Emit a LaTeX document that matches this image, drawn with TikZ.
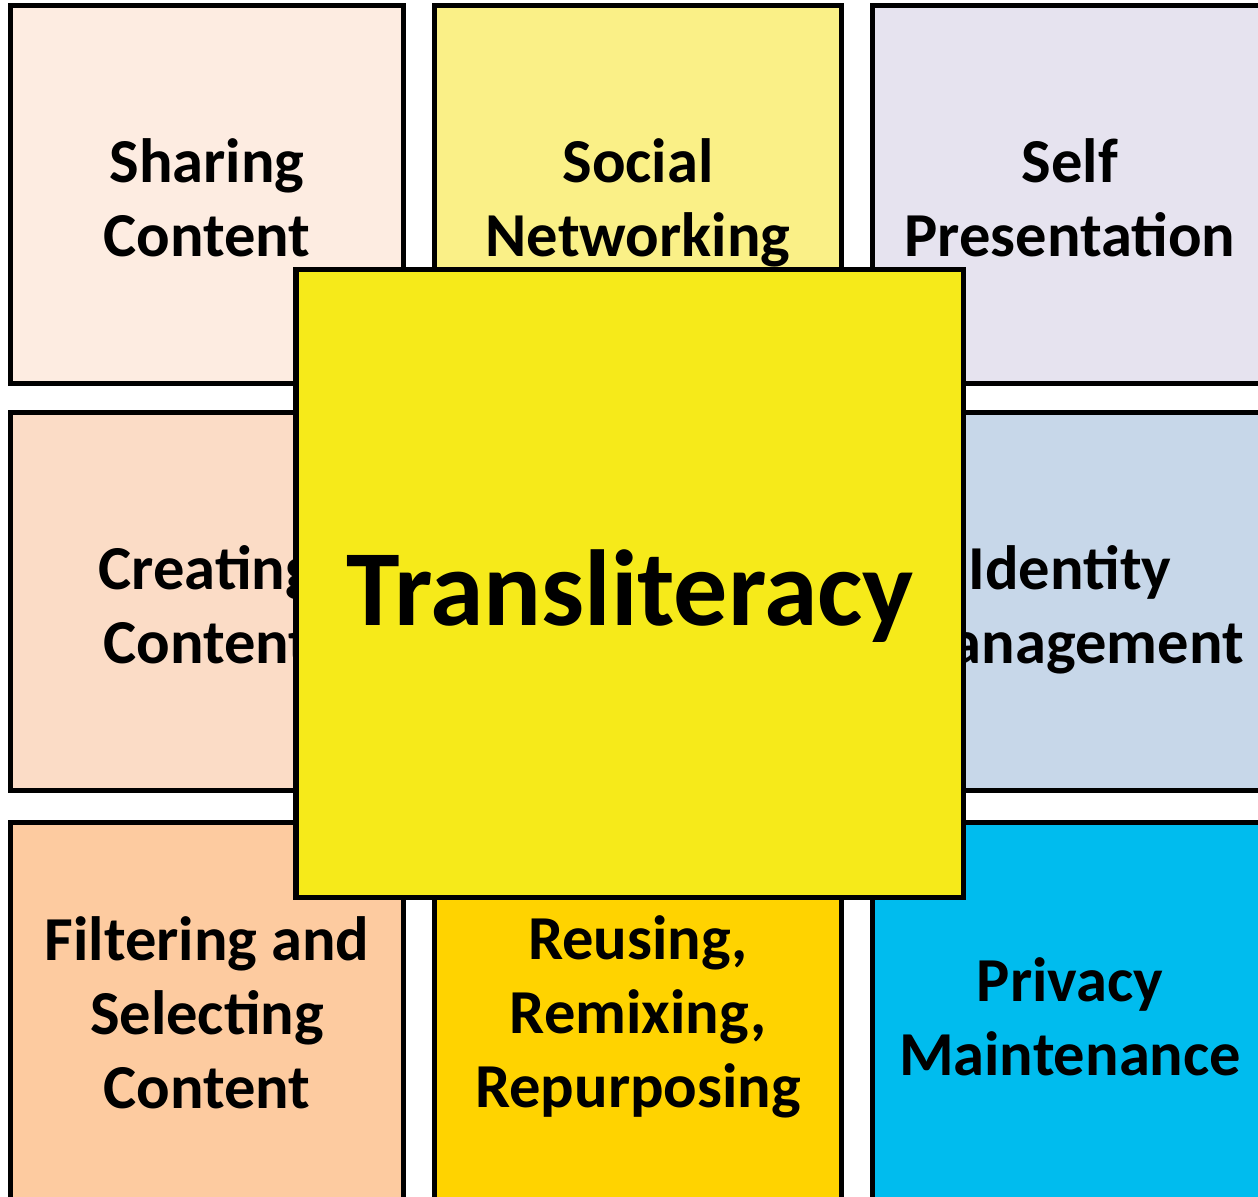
\documentclass[tikz,border=0pt]{standalone}
\usepackage{fontspec}
\setmainfont{Carlito}
\definecolor{cShare}{HTML}{FDECE1}
\definecolor{cSocial}{HTML}{FAF087}
\definecolor{cSelf}{HTML}{E6E3EF}
\definecolor{cCreate}{HTML}{FBDCC6}
\definecolor{cIdent}{HTML}{C7D7E9}
\definecolor{cFilter}{HTML}{FDCBA0}
\definecolor{cReuse}{HTML}{FFD300}
\definecolor{cPrivacy}{HTML}{00BCEE}
\definecolor{cCenter}{HTML}{F6EA1A}
\tikzset{
  tile/.style={draw=black, line width=2.85pt, inner sep=0pt},
  tiletext/.style={inner sep=0pt, align=center,
    font=\fontsize{35.6}{42.1}\selectfont\bfseries},
  hub/.style={draw=black, line width=2.85pt, fill=cCenter, inner sep=0pt},
  hubtext/.style={font=\fontsize{61.5}{70}\selectfont\bfseries, inner sep=0pt, anchor=base}
}
\newcommand{\tline}[1]{\strut#1}
\begin{document}
\begin{tikzpicture}[x=0.02cm, y=-0.02cm]
\useasboundingbox (0,0) rectangle (1258,1197);
\clip (0,0) rectangle (1258,1197);
% row 1
\node[tile, fill=cShare, minimum width={392.5*0.02cm}, minimum height={378*0.02cm}] (share) at (206.75,194.5) {};
\node[tile, fill=cSocial, minimum width={406.5*0.02cm}, minimum height={378*0.02cm}] (social) at (637.75,194.5) {};
\node[tile, fill=cSelf, minimum width={395.5*0.02cm}, minimum height={378*0.02cm}] (self) at (1070.25,194.5) {};
% row 2
\node[tile, fill=cCreate, minimum width={392.5*0.02cm}, minimum height={378*0.02cm}] (create) at (206.75,601.5) {};
\node[tile, fill=cIdent, minimum width={395.5*0.02cm}, minimum height={378*0.02cm}] (ident) at (1070.25,601.5) {};
% row 3
\node[tile, fill=cFilter, minimum width={392.5*0.02cm}, minimum height={382.5*0.02cm}] (filter) at (206.75,1013.75) {};
\node[tile, fill=cReuse, minimum width={406.5*0.02cm}, minimum height={382.5*0.02cm}] (reuse) at (637.75,1013.75) {};
\node[tile, fill=cPrivacy, minimum width={395.5*0.02cm}, minimum height={382.5*0.02cm}] (privacy) at (1070.25,1013.75) {};
% texts
\node[tiletext] (share-t) at (207,205) {\tline{Sharing}\\\tline{Content}};
\node[tiletext] (social-t) at (638,205) {\tline{Social}\\\tline{Networking}};
\node[tiletext] (self-t) at (1070,205) {\tline{Self}\\\tline{Presentation}};
\node[tiletext] (create-t) at (207,612) {\tline{Creating}\\\tline{Content}};
\node[tiletext] (ident-t) at (1070,612) {\tline{Identity}\\\tline{Management}};
\node[tiletext] (filter-t) at (207,1020) {\tline{Filtering and}\\\tline{Selecting}\\\tline{Content}};
\node[tiletext] (reuse-t) at (638,1019) {\tline{Reusing,}\\\tline{Remixing,}\\\tline{Repurposing}};
\node[tiletext] (privacy-t) at (1070,1024) {\tline{Privacy}\\\tline{Maintenance}};
% centre
\node[hub, minimum width={667*0.02cm}, minimum height={628.5*0.02cm}] (hub) at (629.5,583.25) {};
\node[hubtext] (hubt) at (630,625) {Transliteracy};
\end{tikzpicture}
\end{document}
